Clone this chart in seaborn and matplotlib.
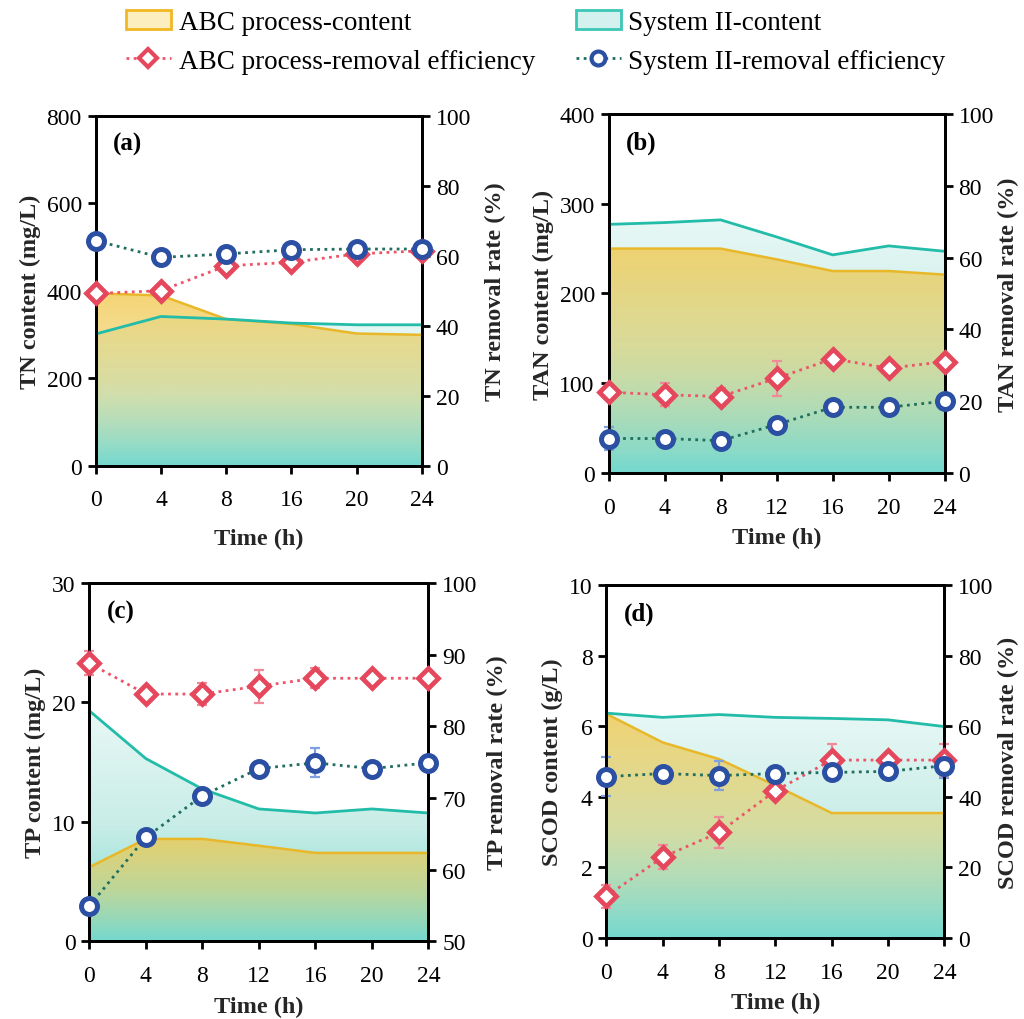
import numpy as np
import pandas as pd
import matplotlib
matplotlib.use("Agg")
import matplotlib.pyplot as plt
import seaborn as sns
from matplotlib.colors import LinearSegmentedColormap, to_rgb
from matplotlib.patches import Patch, Polygon
from matplotlib.lines import Line2D

# ---------------- data ----------------
time_a = [0, 4, 8, 16, 20, 24]
time_full = [0, 4, 8, 12, 16, 20, 24]

# (a) TN
tn_abc_content = [394, 389, 335, 324, 302, 299]
tn_sys_content = [301, 341, 335, 326, 322, 322]
tn_abc_removal = [49.2, 50.0, 57.1, 58.1, 60.5, 61.4]
tn_sys_removal = [64.3, 59.5, 60.5, 61.7, 61.9, 61.9]
tn_abc_err = [0.6, 0.6, 0.6, 0.6, 0.6, 0.6]
tn_sys_err = [0.6, 0.6, 0.6, 0.6, 0.6, 0.6]

# (b) TAN
tan_abc_content = [250, 250, 250, 238, 225, 225, 221]
tan_sys_content = [277, 279, 282, 263, 243, 253, 247]
tan_abc_removal = [22.5, 21.8, 21.3, 26.4, 31.8, 29.2, 31.0]
tan_sys_removal = [9.6, 9.6, 9.0, 13.5, 18.3, 18.3, 20.0]
tan_abc_err = [0.8, 3.2, 2.3, 4.9, 1.0, 1.5, 0.8]
tan_sys_err = [3.2, 0.8, 0.8, 0.8, 0.8, 1.2, 0.8]

# (c) TP
tp_abc_content = [6.2, 8.57, 8.57, 8.0, 7.4, 7.4, 7.4]
tp_sys_content = [19.3, 15.3, 12.75, 11.08, 10.74, 11.08, 10.74]
tp_abc_removal = [88.8, 84.5, 84.5, 85.6, 86.7, 86.7, 86.7]
tp_sys_removal = [54.9, 64.5, 70.3, 74.1, 74.9, 74.1, 74.9]
tp_abc_err = [1.7, 0.8, 1.5, 2.3, 1.4, 0.5, 0.5]
tp_sys_err = [0.5, 0.5, 0.5, 0.5, 2.0, 0.5, 0.5]

# (d) SCOD
scod_abc_content = [6.35, 5.54, 5.07, 4.32, 3.54, 3.54, 3.54]
scod_sys_content = [6.37, 6.25, 6.33, 6.25, 6.22, 6.18, 5.99]
scod_abc_removal = [11.8, 22.9, 29.9, 41.7, 50.4, 50.4, 50.4]
scod_sys_removal = [45.7, 46.6, 46.0, 46.6, 46.9, 47.2, 48.8]
scod_abc_err = [3.3, 3.4, 4.5, 1.0, 4.6, 1.0, 4.6]
scod_sys_err = [5.5, 1.0, 4.2, 1.5, 1.0, 1.0, 3.5]

# ---------------- style ----------------
sns.set_theme(style="ticks")
plt.rcParams['font.family'] = ['Liberation Serif', 'DejaVu Serif']
plt.rcParams['axes.linewidth'] = 2.0
plt.rcParams['xtick.major.width'] = 2.0
plt.rcParams['ytick.major.width'] = 2.0
plt.rcParams['xtick.major.size'] = 6
plt.rcParams['ytick.major.size'] = 6
plt.rcParams['xtick.direction'] = 'out'
plt.rcParams['ytick.direction'] = 'out'
plt.rcParams['text.color'] = 'black'
plt.rcParams['xtick.color'] = 'black'
plt.rcParams['ytick.color'] = 'black'

RED = '#e5475c'
RED_LINE = '#ee5468'
RED_ERR = '#f08a98'
BLUE = '#2b4fa3'
BLUE_ERR = '#7f9fe0'
TEAL_LINE = '#22bca9'
GOLD_LINE = '#e8b82a'
DOT_GREEN = '#1f6e5e'

sys_cmap = LinearSegmentedColormap.from_list(
    'sys', [(*to_rgb('#74d9cf'), 1.0), (*to_rgb('#c8ede7'), 1.0), (*to_rgb('#e8f8f6'), 1.0)])
abc_cmap = LinearSegmentedColormap.from_list(
    'abc', [(*to_rgb('#e8c64a'), 0.0), (*to_rgb('#e8c84a'), 0.45), (*to_rgb('#f2c646'), 0.75)])

TICK_FS = 17
LABEL_FS = 17.5

fig = plt.figure(figsize=(10.24, 10.20), dpi=100)

positions = {
    'a': [0.0935, 0.5425, 0.3184, 0.3431],
    'b': [0.5944, 0.5353, 0.3281, 0.3520],
    'c': [0.0872, 0.0762, 0.3311, 0.3513],
    'd': [0.5921, 0.0794, 0.3301, 0.3461],
}
xlabel_pads = {'a': 13, 'b': 7, 'c': 7, 'd': 7}
rlabel_pads = {'a': 10, 'b': 3, 'c': 7, 'd': 3}


def grad_fill(ax, x, y, cmap, z):
    x = np.asarray(x, float)
    y = np.asarray(y, float)
    verts = np.vstack([np.column_stack([x, y]), [[x.max(), 0], [x.min(), 0]]])
    clip = Polygon(verts, closed=True, facecolor='none', edgecolor='none',
                   transform=ax.transData)
    ax.add_patch(clip)
    img = np.linspace(0, 1, 256).reshape(-1, 1)
    im = ax.imshow(img, extent=[x.min(), x.max(), 0, y.max()], origin='lower',
                   aspect='auto', cmap=cmap, zorder=z, interpolation='bilinear')
    im.set_clip_path(clip)


def panel(key, xvals, xlabels, abc_c, sys_c, abc_r, sys_r, abc_e, sys_e,
          ylim, yticks, rlim, rticks, ylabel, rlabel):
    ax = fig.add_axes(positions[key])
    x = np.arange(len(xvals)) if xlabels is not None else np.asarray(xvals, float)
    grad_fill(ax, x, sys_c, sys_cmap, 1)
    grad_fill(ax, x, abc_c, abc_cmap, 2)
    ax.plot(x, abc_c, color=GOLD_LINE, lw=1.8, zorder=3)
    ax.plot(x, sys_c, color=TEAL_LINE, lw=2.0, zorder=4)
    ax.set_xlim(x.min(), x.max())
    ax.set_ylim(*ylim)
    ax.set_yticks(yticks)
    ax.set_xticks(x)
    ax.set_xticklabels(xlabels if xlabels is not None else [str(v) for v in xvals])
    ax.tick_params(axis='y', labelsize=TICK_FS, pad=4)
    ax.tick_params(axis='x', labelsize=TICK_FS, pad=11)
    ax.set_ylabel(ylabel, fontsize=LABEL_FS, fontweight='bold', labelpad=4)
    ax.set_xlabel('Time (h)', fontsize=LABEL_FS, fontweight='bold',
                  labelpad=xlabel_pads[key])
    ax.text(0.052, 0.92, f'({key})', transform=ax.transAxes, fontsize=18,
            fontweight='bold', ha='left', va='center', zorder=10)

    ax2 = ax.twinx()
    df = pd.DataFrame({'x': x, 'abc': abc_r, 'sys': sys_r})
    ax2.errorbar(x, abc_r, yerr=abc_e, fmt='none', ecolor=RED_ERR, elinewidth=1.6,
                 capsize=3.5, capthick=1.6, zorder=2)
    ax2.errorbar(x, sys_r, yerr=sys_e, fmt='none', ecolor=BLUE_ERR, elinewidth=1.6,
                 capsize=3.5, capthick=1.6, zorder=2)
    sns.lineplot(data=df, x='x', y='abc', ax=ax2, color=RED_LINE, lw=2.0,
                 linestyle=(0, (1, 1.6)), marker='D', markersize=10,
                 markerfacecolor='white', markeredgecolor=RED, markeredgewidth=3.4,
                 zorder=5)
    sns.lineplot(data=df, x='x', y='sys', ax=ax2, color=DOT_GREEN, lw=2.0,
                 linestyle=(0, (1, 1.6)), marker='o', markersize=11.5,
                 markerfacecolor='white', markeredgecolor=BLUE, markeredgewidth=3.6,
                 zorder=6)
    for ln in ax2.lines:
        ln.set_clip_on(False)
    ax2.set_ylim(*rlim)
    ax2.set_yticks(rticks)
    ax2.set_xlim(x.min(), x.max())
    ax2.set_xlabel('')
    ax2.set_ylabel(rlabel, fontsize=LABEL_FS, fontweight='bold',
                   labelpad=rlabel_pads[key])
    ax2.tick_params(labelsize=TICK_FS, pad=4)
    for a in (ax, ax2):
        for s in a.spines.values():
            s.set_visible(True)
            s.set_linewidth(2.0)
            s.set_color('black')
    return ax, ax2


panel('a', time_a, [str(t) for t in time_a], tn_abc_content, tn_sys_content,
      tn_abc_removal, tn_sys_removal, tn_abc_err, tn_sys_err,
      (0, 800), [0, 200, 400, 600, 800], (0, 100), [0, 20, 40, 60, 80, 100],
      'TN content (mg/L)', 'TN removal rate (%)')
panel('b', time_full, None, tan_abc_content, tan_sys_content,
      tan_abc_removal, tan_sys_removal, tan_abc_err, tan_sys_err,
      (0, 400), [0, 100, 200, 300, 400], (0, 100), [0, 20, 40, 60, 80, 100],
      'TAN content (mg/L)', 'TAN removal rate (%)')
panel('c', time_full, None, tp_abc_content, tp_sys_content,
      tp_abc_removal, tp_sys_removal, tp_abc_err, tp_sys_err,
      (0, 30), [0, 10, 20, 30], (50, 100), [50, 60, 70, 80, 90, 100],
      'TP content (mg/L)', 'TP removal rate (%)')
panel('d', time_full, None, scod_abc_content, scod_sys_content,
      scod_abc_removal, scod_sys_removal, scod_abc_err, scod_sys_err,
      (0, 10), [0, 2, 4, 6, 8, 10], (0, 100), [0, 20, 40, 60, 80, 100],
      'SCOD content (g/L)', 'SCOD removal rate (%)')

# legend
handles = [
    Patch(facecolor='#fdeec0', edgecolor='#f2b824', linewidth=2.0, label='ABC process-content'),
    Line2D([0], [0], color=RED_LINE, lw=2, linestyle=(0, (1, 1.6)), marker='D',
           markersize=9, markerfacecolor='white', markeredgecolor=RED,
           markeredgewidth=3, label='ABC process-removal efficiency'),
    Patch(facecolor='#d3f1ee', edgecolor='#3cc6b6', linewidth=2.0, label='System II-content'),
    Line2D([0], [0], color=DOT_GREEN, lw=2, linestyle=(0, (1, 1.6)), marker='o',
           markersize=10, markerfacecolor='white', markeredgecolor=BLUE,
           markeredgewidth=3, label='System II-removal efficiency'),
]
fig.legend(handles=handles, ncol=2, loc='upper left', bbox_to_anchor=(0.099, 1.013),
           frameon=False, fontsize=19.5, handlelength=1.67, handleheight=0.7,
           columnspacing=1.5, labelspacing=0.5, handletextpad=0.28)

fig.savefig('out.png', dpi=100)
